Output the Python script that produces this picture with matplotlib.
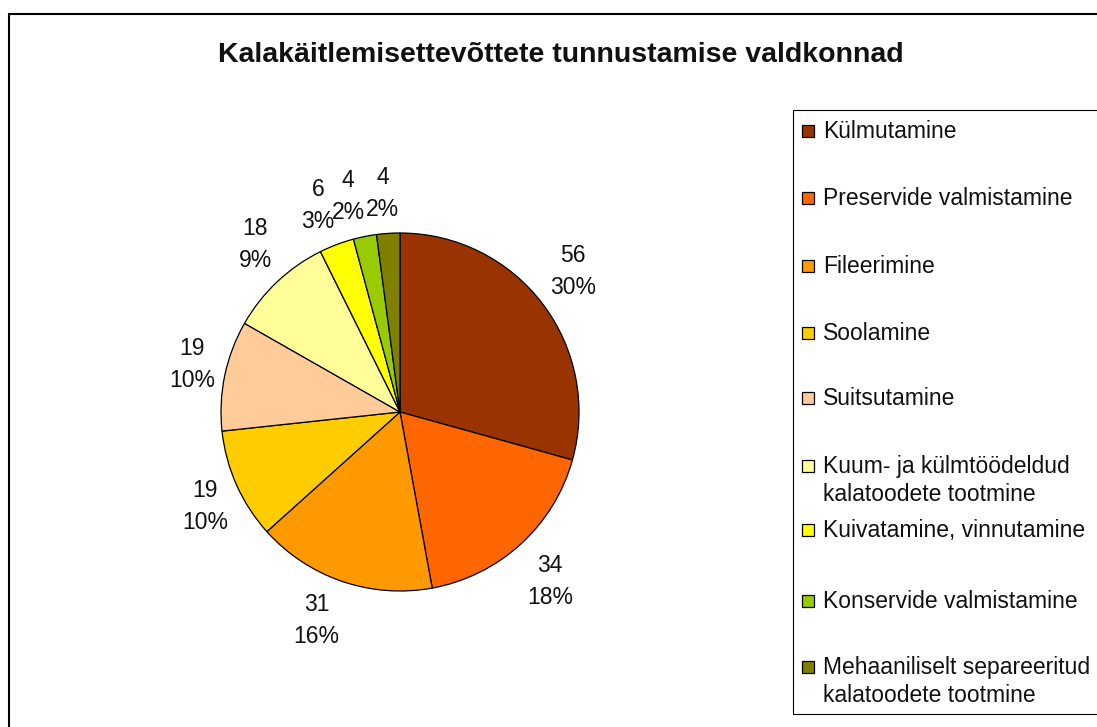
import numpy as np
import matplotlib
matplotlib.use('Agg')
import matplotlib.pyplot as plt
from matplotlib.patches import Rectangle

plt.rcParams['font.family'] = ['Liberation Sans', 'DejaVu Sans']

# ── data ──────────────────────────────────────────────────────────────────────
categories = [
    'Külmutamine',
    'Preservide valmistamine',
    'Fileerimine',
    'Soolamine',
    'Suitsutamine',
    'Kuum- ja külmtöödeldud\nkalatoodete tootmine',
    'Kuivatamine, vinnutamine',
    'Konservide valmistamine',
    'Mehaaniliselt separeeritud\nkalatoodete tootmine',
]
counts = [56, 34, 31, 19, 19, 18, 6, 4, 4]
percents = [30, 18, 16, 10, 10, 9, 3, 2, 2]
colors = ['#993300', '#FF6600', '#FF9900', '#FFCC00', '#FFCC99',
          '#FFFF99', '#FFFF00', '#99CC00', '#808000']

W, H = 1097, 727
fig = plt.figure(figsize=(W / 100, H / 100), dpi=100)
fig.patch.set_facecolor('white')


def fx(px):
    return px / W


def fy(py):
    return 1 - py / H


# ── outer frame ───────────────────────────────────────────────────────────────
fig.patches.append(Rectangle((fx(9), fy(740)), fx(1100 - 9), (740 - 14) / H,
                             transform=fig.transFigure, fill=False,
                             edgecolor='black', linewidth=1.5, zorder=0))

# ── pie ───────────────────────────────────────────────────────────────────────
cx, cy, r = 400, 412, 179
ax = fig.add_axes([fx(cx - r), fy(cy + r), 2 * r / W, 2 * r / H])
wedges, _ = ax.pie(counts, colors=colors, startangle=90, counterclock=False,
                   wedgeprops=dict(edgecolor='black', linewidth=0.9))
ax.set_xlim(-1, 1)
ax.set_ylim(-1, 1)
ax.set_aspect('equal')
ax.axis('off')

# labels placed just outside the rim, Excel "outside end" style
gap, hh = 10, 30
for w, c, p in zip(wedges, counts, percents):
    lab = f'{c}\n{p}%'
    th = np.deg2rad((w.theta1 + w.theta2) / 2)
    ux, uy = np.cos(th), np.sin(th)
    hw = 7.5 * max(len(s) for s in lab.split('\n'))
    ox = (r + gap) * ux + np.sign(ux) * hw * min(1, abs(ux) / 0.2)
    oy = (r + gap) * uy + np.sign(uy) * hh * min(1, abs(uy) / 0.7)
    ax.text(ox / r, oy / r, lab, ha='center', va='center', fontsize=16.5,
            color='#111', linespacing=1.5)

# ── title ─────────────────────────────────────────────────────────────────────
fig.text(fx(561), fy(62), 'Kalakäitlemisettevõttete tunnustamise valdkonnad',
         ha='center', va='baseline', fontsize=20.5, fontweight='bold',
         color='#111')

# ── legend (drawn by hand, box runs past the right edge) ──────────────────────
fig.patches.append(Rectangle((fx(793), fy(714)), fx(1120 - 793), (714 - 110) / H,
                             transform=fig.transFigure, fill=False,
                             edgecolor='black', linewidth=0.8, zorder=1))
rows = [131, 198, 266, 333, 398, 466, 530, 601, 667]
ms = 12
for name, col, yy in zip(categories, colors, rows):
    fig.patches.append(Rectangle((fx(802), fy(yy + ms / 2)), ms / W, ms / H,
                                 transform=fig.transFigure, facecolor=col,
                                 edgecolor='black', linewidth=0.9, zorder=2))
    for i, line in enumerate(name.split('\n')):
        fig.text(fx(823), fy(yy + 7 + 28 * i), line, ha='left',
                 va='baseline', fontsize=16.5, color='#111')

fig.savefig('out.png', dpi=100, facecolor='white')
